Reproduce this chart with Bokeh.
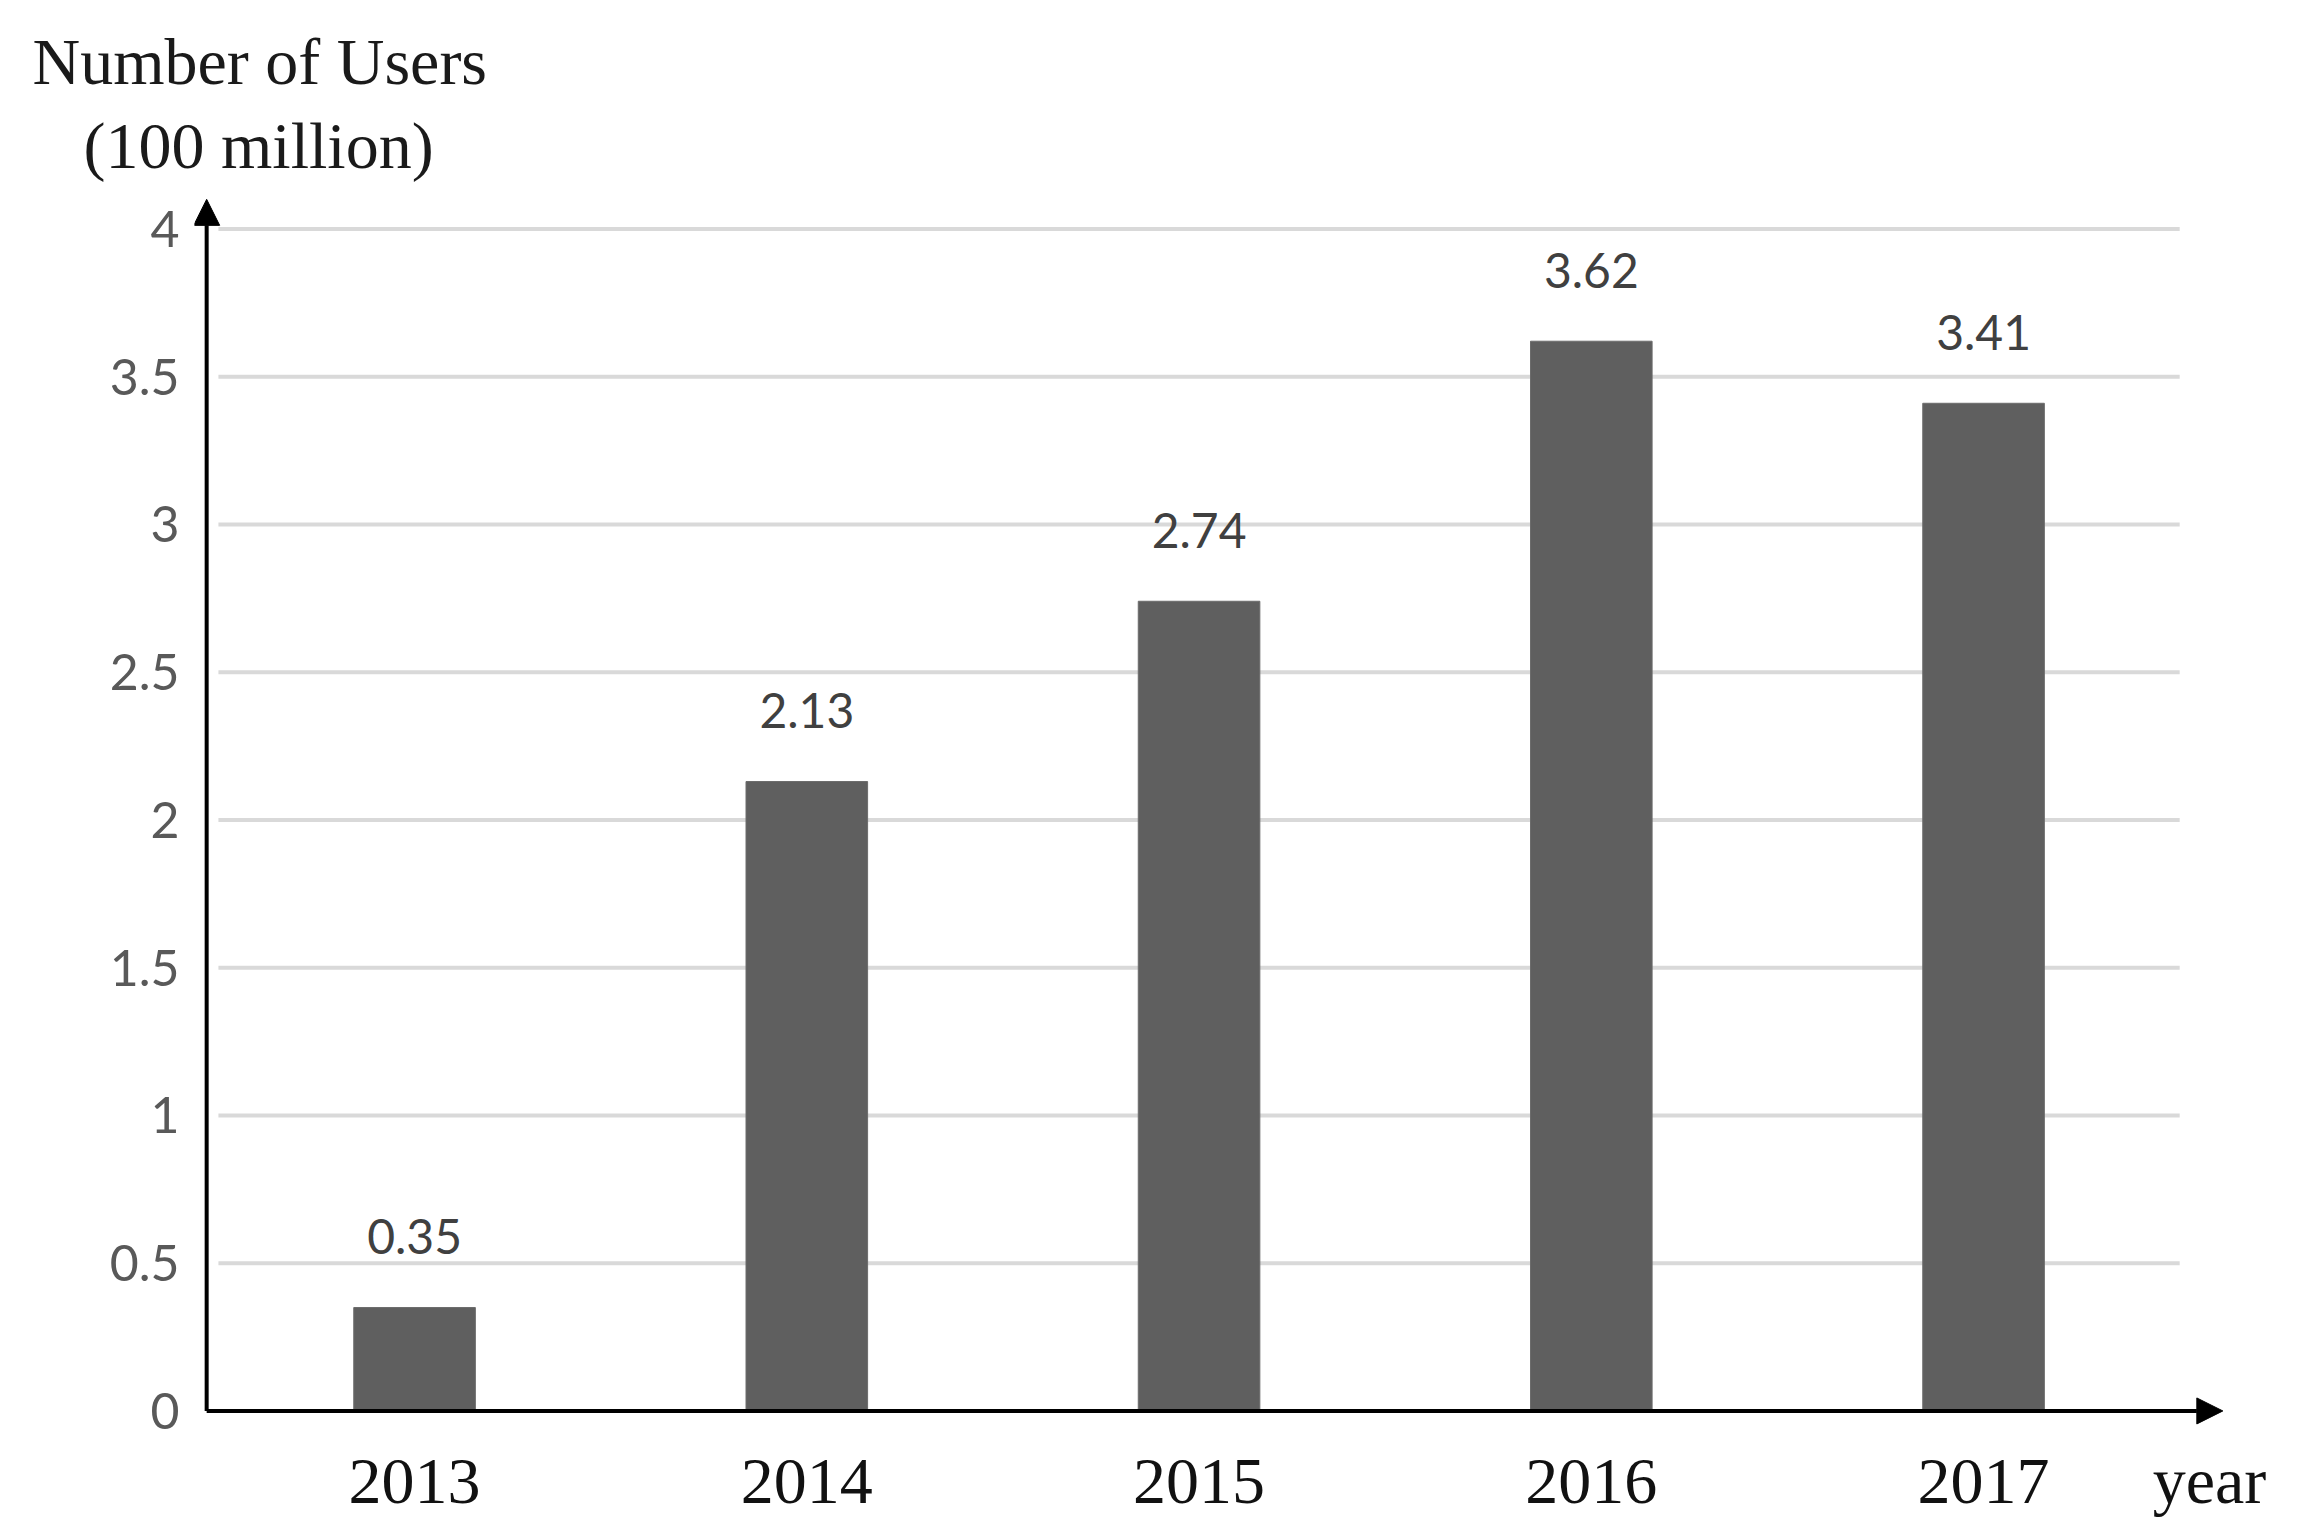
from bokeh.plotting import figure
from bokeh.models import Range1d, FixedTicker, Arrow, NormalHead, Title
from bokeh.core.properties import value
from bokeh.embed import file_html
from bokeh.resources import INLINE

years = [2013, 2014, 2015, 2016, 2017]
year_labels = ["2013", "2014", "2015", "2016", "2017"]
users = [0.35, 2.13, 2.74, 3.62, 3.41]
value_labels = ["0.35", "2.13", "2.74", "3.62", "3.41"]
y_ticks = [0, 0.5, 1, 1.5, 2, 2.5, 3, 3.5, 4]
y_tick_labels = ["0", "0.5", "1", "1.5", "2", "2.5", "3", "3.5", "4"]
y_title = ["Number of Users", "(100 million)"]
x_title = "year"

p = figure(frame_width=2045, frame_height=1250,
           min_border_left=194, min_border_right=61,
           min_border_top=190, min_border_bottom=79,
           x_range=Range1d(2012.439, 2017.6525), y_range=Range1d(-0.1, 4.13),
           output_backend="svg", toolbar_location=None)
p.outline_line_color = None
p.grid.visible = False
p.background_fill_color = "white"
p.border_fill_color = "white"

# horizontal gridlines
p.segment(x0=2012.5, y0=y_ticks, x1=2017.5, y1=y_ticks,
          line_color="#d9d9d9", line_width=4)

# bars
p.vbar(x=years, top=users, bottom=0, width=0.31,
       fill_color="#5f5f5f", line_color="#6c6c6c", line_width=1)

# value labels
p.text(x=years, y=users, text=value_labels, text_align="center",
       text_baseline="middle", y_offset=-71,
       text_font=value("Lato"), text_font_size="48px", text_color="#404040")

# y axis (labels only)
p.yaxis.ticker = FixedTicker(ticks=y_ticks)
p.yaxis.major_label_overrides = {t: l for t, l in zip(y_ticks, y_tick_labels)}
p.yaxis.axis_line_color = None
p.yaxis.major_tick_line_color = None
p.yaxis.minor_tick_line_color = None
p.yaxis.major_label_standoff = 9
p.yaxis.major_label_text_font = "Lato"
p.yaxis.major_label_text_font_size = "50px"
p.yaxis.major_label_text_color = "#595959"

# x axis (labels only); the axis name "year" sits in the label row at the right
year_pos = 2017.576
p.xaxis.ticker = FixedTicker(ticks=years + [year_pos])
overrides = {t: l for t, l in zip(years, year_labels)}
overrides[year_pos] = x_title
p.xaxis.major_label_overrides = overrides
p.xaxis.axis_line_color = None
p.xaxis.major_tick_line_color = None
p.xaxis.minor_tick_line_color = None
p.xaxis.major_label_standoff = -3
p.xaxis.major_label_text_font = "Liberation Serif"
p.xaxis.major_label_text_font_size = "66px"
p.xaxis.major_label_text_color = "#111111"

# axis arrows
p.add_layout(Arrow(end=NormalHead(size=26, fill_color="black", line_color="black"),
                   x_start=2012.47, y_start=0, x_end=2017.61, y_end=0,
                   line_width=4, line_color="black"))
p.add_layout(Arrow(end=NormalHead(size=26, fill_color="black", line_color="black"),
                   x_start=2012.47, y_start=0, x_end=2012.47, y_end=4.10,
                   line_width=4, line_color="black"))

# y axis title (two lines, stacked above the plot)
p.add_layout(Title(text=y_title[1], align="left", offset=-111, standoff=17,
                   text_font="Liberation Serif", text_font_size="66px",
                   text_font_style="normal", text_color="#1a1a1a"), "above")
p.add_layout(Title(text=y_title[0], align="left", offset=-162, standoff=1,
                   text_font="Liberation Serif", text_font_size="66px",
                   text_font_style="normal", text_color="#1a1a1a"), "above")

open("out.html", "w").write(file_html(p, INLINE))
